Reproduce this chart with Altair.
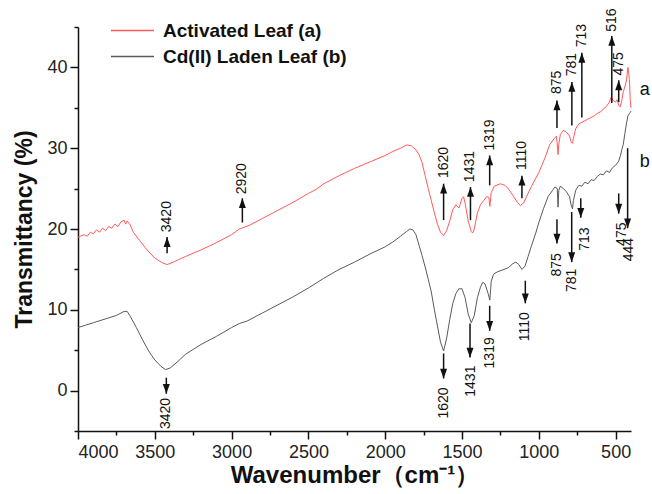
import altair as alt
import pandas as pd

# ---- spectrum a : Activated Leaf ----
wn_a = [4000, 3960, 3940, 3920, 3900, 3880, 3860, 3840, 3820, 3800, 3780, 3760, 3740, 3720,
        3700, 3690, 3680, 3660, 3640, 3600, 3550, 3500, 3450, 3420, 3380, 3300, 3200, 3100,
        3000, 2950, 2920, 2880, 2800, 2700, 2600, 2500, 2450, 2400, 2300, 2200, 2100, 2000,
        1950, 1900, 1860, 1830, 1800, 1780, 1760, 1740, 1720, 1700, 1680, 1660, 1640, 1620,
        1600, 1580, 1560, 1540, 1520, 1500, 1490, 1480, 1460, 1440, 1431, 1420, 1400, 1380,
        1360, 1340, 1325, 1319, 1310, 1290, 1250, 1220, 1200, 1170, 1140, 1120, 1100, 1080,
        1050, 1000, 960, 930, 900, 885, 878, 875, 870, 860, 840, 820, 800, 790, 781, 775,
        760, 740, 720, 700, 680, 660, 640, 620, 600, 580, 560, 540, 530, 516, 500, 490, 480,
        470, 460, 450, 440, 430, 420, 415, 410, 405, 400]
t_a = [19.0, 19.3, 19.1, 19.6, 19.4, 19.9, 19.6, 20.1, 19.8, 20.3, 20.1, 20.6, 20.3, 20.9,
       21.1, 20.6, 21.0, 20.5, 19.6, 18.6, 17.4, 16.4, 15.8, 15.6, 15.9, 16.6, 17.4, 18.3,
       19.3, 20.0, 20.2, 20.5, 21.3, 22.3, 23.3, 24.4, 24.9, 25.6, 26.6, 27.5, 28.3, 29.1,
       29.6, 30.0, 30.4, 30.3, 29.8, 29.2, 28.2, 26.6, 25.0, 23.5, 22.0, 20.6, 19.6, 19.2,
       19.8, 21.0, 22.4, 23.0, 22.6, 23.8, 24.0, 23.2, 21.0, 19.7, 19.5, 20.0, 22.0, 23.0,
       23.5, 24.0, 23.9, 22.8, 24.5, 25.3, 25.6, 25.4, 25.0, 24.2, 23.3, 22.9, 23.2, 24.0,
       25.2, 27.0, 28.8, 30.4, 31.2, 31.5, 30.0, 29.2, 30.5, 31.7, 32.2, 32.0, 31.5, 30.8,
       30.6, 31.2, 32.4, 33.0, 33.2, 33.4, 33.6, 33.8, 34.0, 34.3, 34.5, 34.8, 35.2, 35.7,
       36.3, 35.9, 35.7, 36.0, 35.3, 35.1, 35.9, 37.0, 37.6, 38.3, 40.0, 39.2, 38.5, 36.0, 35.0]

# ---- spectrum b : Cd(II) laden leaf ----
wn_b = [4000, 3950, 3900, 3850, 3800, 3750, 3700, 3680, 3660, 3620, 3580, 3540, 3500, 3460,
        3430, 3400, 3350, 3300, 3250, 3200, 3100, 3000, 2950, 2900, 2800, 2700, 2600, 2500,
        2400, 2300, 2200, 2100, 2000, 1950, 1900, 1860, 1840, 1820, 1800, 1780, 1760, 1740,
        1720, 1700, 1680, 1660, 1640, 1620, 1600, 1580, 1560, 1540, 1520, 1500, 1480, 1460,
        1440, 1420, 1400, 1380, 1365, 1350, 1330, 1319, 1310, 1295, 1270, 1240, 1200, 1170,
        1150, 1130, 1110, 1090, 1070, 1050, 1020, 1000, 970, 940, 910, 895, 880, 875, 870,
        860, 840, 820, 800, 790, 781, 775, 760, 740, 720, 700, 680, 660, 640, 620, 600, 580,
        560, 540, 520, 500, 480, 470, 460, 450, 440, 430, 420, 410, 400]
t_b = [7.8, 8.1, 8.4, 8.7, 9.0, 9.3, 9.8, 9.8, 9.2, 7.8, 6.3, 4.9, 3.8, 3.0,
       2.6, 2.8, 3.6, 4.5, 5.1, 5.7, 6.7, 7.8, 8.3, 8.6, 9.6, 10.6, 11.6, 12.7,
       13.9, 15.0, 15.9, 16.9, 17.8, 18.4, 19.1, 19.7, 20.0, 19.9, 19.3, 18.0, 16.7, 15.3,
       13.8, 12.2, 10.0, 8.0, 6.0, 4.9, 6.5, 8.8, 10.8, 12.0, 12.6, 12.6, 11.5, 9.5,
       8.4, 9.3, 11.5, 12.8, 13.4, 13.2, 12.0, 11.2, 13.5, 14.4, 14.7, 14.9, 15.2, 15.7,
       15.9, 15.6, 15.0, 15.4, 16.6, 17.8, 19.5, 20.8, 22.5, 24.0, 24.8, 25.2, 25.0, 22.7, 24.8,
       25.3, 25.0, 24.6, 24.0, 23.0, 22.5, 23.5, 24.8, 25.4, 25.3, 25.8, 25.6, 26.1, 26.0, 26.5,
       26.8, 26.7, 27.2, 27.0, 27.6, 27.9, 28.4, 29.0, 29.8, 30.5, 31.8, 33.0, 34.0, 34.3, 34.6]

series_names = ["Activated Leaf (a)", "Cd(II) Laden Leaf (b)"]
series_colors = ["#ff5a5a", "#5a5a5a"]

# ---- upward arrows (curve a) ----
up_label = ["3420", "2920", "1620", "1431", "1319", "1110", "875", "781", "713", "516", "475"]
up_x = [3420, 2930, 1620, 1445, 1320, 1110, 882, 785, 720, 525, 480]
up_tail = [17.0, 20.8, 21.1, 21.1, 25.4, 23.8, 32.5, 32.8, 33.8, 35.6, 35.7]
up_tip = [19.0, 23.8, 25.6, 25.2, 29.1, 26.6, 35.9, 38.2, 41.8, 43.9, 38.4]
up_text = [19.6, 24.3, 26.3, 25.8, 29.7, 27.3, 36.7, 38.9, 42.5, 44.4, 39.0]

# ---- downward arrows (curve b) ----
down_label = ["3420", "1620", "1431", "1319", "1110", "875", "781", "713", "475", "444"]
down_x = [3425, 1620, 1448, 1320, 1088, 882, 786, 727, 480, 422]
down_tail = [1.6, 4.6, 8.3, 10.5, 13.6, 21.2, 22.1, 23.8, 24.4, 30.0]
down_tip = [-0.4, 1.5, 4.1, 7.4, 10.8, 18.2, 15.9, 21.4, 21.9, 20.1]
down_text = [-0.9, 0.4, 3.1, 6.6, 9.7, 17.0, 15.1, 20.2, 20.8, 18.9]
down_text_x = [3425, 1620, 1440, 1320, 1088, 882, 786, 697, 456, 410]

# ---- curve tags ----
tag_label = ["a", "b"]
tag_x = [311, 311]
tag_y = [37.2, 28.3]

x_major = [4000, 3500, 3000, 2500, 2000, 1500, 1000, 500]
x_minor = [3750, 3250, 2750, 2250, 1750, 1250, 750]
y_major = [0, 10, 20, 30, 40]
y_minor = [-5, 5, 15, 25, 35, 45]

df = pd.concat([
    pd.DataFrame({"wn": wn_a, "T": t_a, "series": series_names[0]}),
    pd.DataFrame({"wn": wn_b, "T": t_b, "series": series_names[1]}),
])
up_df = pd.DataFrame({"label": up_label, "x": up_x, "tail": up_tail, "tip": up_tip, "ty": up_text})
down_df = pd.DataFrame({"label": down_label, "x": down_x, "tail": down_tail, "tip": down_tip,
                        "ty": down_text, "tx": down_text_x})
tag_df = pd.DataFrame({"label": tag_label, "x": tag_x, "y": tag_y})

FONT = "Liberation Sans"
xs = alt.Scale(domain=[400, 4000], reverse=True, nice=False, zero=False)
ys = alt.Scale(domain=[-5, 45], nice=False, zero=False)

axis_common = dict(grid=False, domainColor="#111", domainWidth=1.5, tickColor="#111",
                   tickWidth=1.5, labelFont=FONT, labelFontSize=18, labelColor="#222",
                   titleFont=FONT, titleFontWeight="bold", titleColor="#111", format="d")

x_axis = alt.Axis(values=x_major, tickSize=8, labelPadding=4, title="Wavenumber（cm⁻¹）",
                  titleFontSize=24, titlePadding=2, **axis_common)
y_axis = alt.Axis(values=y_major, tickSize=8, labelPadding=3, title="Transmittancy (%)",
                  titleFontSize=23, titlePadding=10, **axis_common)

lines = alt.Chart(df).mark_line(strokeWidth=1).encode(
    x=alt.X("wn:Q", scale=xs, axis=x_axis),
    y=alt.Y("T:Q", scale=ys, axis=y_axis),
    color=alt.Color("series:N", scale=alt.Scale(domain=series_names, range=series_colors),
                    legend=alt.Legend(title=None, orient="none", legendX=32, legendY=-6,
                                      symbolType="stroke", symbolSize=1849, symbolStrokeWidth=1.5,
                                      labelFont=FONT, labelFontSize=19, labelFontWeight="bold",
                                      labelColor="#111", labelOffset=8, clipHeight=19,
                                      rowPadding=6, labelLimit=400)),
    detail="series:N",
)

minor_axes = alt.Chart(up_df).mark_rule(opacity=0).encode(
    x=alt.X("x:Q", scale=xs, axis=alt.Axis(values=x_minor, orient="bottom", tickSize=4,
                                           tickWidth=1.5, tickColor="#111", labels=False,
                                           domain=False, grid=False, title=None)),
    y=alt.Y("tail:Q", scale=ys, axis=alt.Axis(values=y_minor, orient="left", tickSize=4,
                                              tickWidth=1.5, tickColor="#111", labels=False,
                                              domain=False, grid=False, title=None)),
)

up_shaft = alt.Chart(up_df).mark_rule(color="#111", strokeWidth=1.5).encode(
    x=alt.X("x:Q", scale=xs, axis=None),
    y=alt.Y("tail:Q", scale=ys, axis=None),
    y2="tip:Q",
)
up_head = alt.Chart(up_df).mark_point(shape="M0,0L1,2.8L-1,2.8Z", filled=True, size=49,
                                      color="#111", opacity=1).encode(
    x=alt.X("x:Q", scale=xs, axis=None),
    y=alt.Y("tip:Q", scale=ys, axis=None),
)
up_txt = alt.Chart(up_df).mark_text(angle=270, align="left", baseline="middle", font=FONT,
                                    fontSize=14, color="#111").encode(
    x=alt.X("x:Q", scale=xs, axis=None),
    y=alt.Y("ty:Q", scale=ys, axis=None),
    text="label:N",
)

down_shaft = alt.Chart(down_df).mark_rule(color="#111", strokeWidth=1.5).encode(
    x=alt.X("x:Q", scale=xs, axis=None),
    y=alt.Y("tail:Q", scale=ys, axis=None),
    y2="tip:Q",
)
down_head = alt.Chart(down_df).mark_point(shape="M0,0L1,-2.8L-1,-2.8Z", filled=True, size=49,
                                          color="#111", opacity=1).encode(
    x=alt.X("x:Q", scale=xs, axis=None),
    y=alt.Y("tip:Q", scale=ys, axis=None),
)
down_txt = alt.Chart(down_df).mark_text(angle=270, align="right", baseline="middle", font=FONT,
                                        fontSize=14, color="#111").encode(
    x=alt.X("tx:Q", scale=xs, axis=None),
    y=alt.Y("ty:Q", scale=ys, axis=None),
    text="label:N",
)

tags = alt.Chart(tag_df).mark_text(font=FONT, fontSize=18, color="#111", align="center",
                                   baseline="middle").encode(
    x=alt.X("x:Q", scale=xs, axis=None),
    y=alt.Y("y:Q", scale=ys, axis=None),
    text="label:N",
)

chart = alt.layer(
    lines, minor_axes, up_shaft, up_head, up_txt, down_shaft, down_head, down_txt, tags
).resolve_axis(x="independent", y="independent").properties(
    width=553, height=404,
    autosize=alt.AutoSizeParams(type="none"),
    padding={"left": 78, "top": 27, "right": 21, "bottom": 63},
    background="white",
).configure_view(stroke=None)

chart.save("out.html", embed_options={"renderer": "svg", "actions": False})
